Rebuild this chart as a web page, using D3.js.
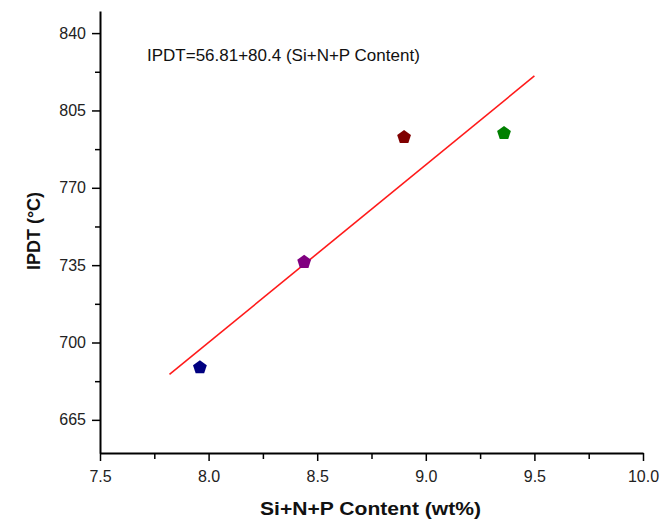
<!DOCTYPE html>
<html>
<head>
<meta charset="utf-8">
<script src="https://cdn.jsdelivr.net/npm/d3@7"></script>
<style>
    body { margin: 0; background: #fff; }
    text { font-family: Arial, "Liberation Sans", sans-serif; }
</style>
</head>
<body>
<div id="chart"></div>
<script>
// data
const content = [7.96, 8.44, 8.90, 9.36];
const ipdt = [688.7, 736.4, 792.9, 794.7];
const pointColors = ["#000080", "#800080", "#800000", "#008000"];

// fitted line IPDT = 56.81 + 80.4 * content
const fitIntercept = 56.81;
const fitSlope = 80.4;
const fitRange = [7.82, 9.5];

const xTicks = [7.5, 8.0, 8.5, 9.0, 9.5, 10.0];
const yTicks = [665, 700, 735, 770, 805, 840];

const width = 660;
const height = 521;
const margin = { top: 11, right: 17, bottom: 68, left: 100 };

let svg = d3.select("#chart")
    .append("svg")
    .attr("width", width)
    .attr("height", height);

let x = d3.scaleLinear()
    .domain([7.5, 10.0])
    .range([margin.left, width - margin.right]);

let y = d3.scaleLinear()
    .domain([650, 850])
    .range([height - margin.bottom, margin.top]);

// minor ticks halfway between the majors
let xMinor = d3.range(7.75, 10.0, 0.5);
let yMinor = d3.range(682.5, 850, 35);

let xAxisY = height - margin.bottom;

svg.append("g")
    .attr("transform", "translate(0," + xAxisY + ")")
    .call(d3.axisBottom(x).tickValues(xMinor).tickSize(6).tickFormat(""))
    .call(g => g.select(".domain").remove())
    .selectAll("line").attr("stroke-width", 1.5);

svg.append("g")
    .attr("class", "axis")
    .attr("transform", "translate(0," + xAxisY + ")")
    .call(d3.axisBottom(x).tickValues(xTicks).tickSize(8).tickSizeOuter(0).tickPadding(10)
        .tickFormat(d3.format(".1f")))
    .call(g => g.select(".domain").attr("stroke-width", 2))
    .call(g => g.selectAll("line").attr("stroke-width", 1.5))
    .call(g => g.selectAll("text").attr("font-size", 16).attr("fill", "#222"));

svg.append("g")
    .attr("transform", "translate(" + margin.left + ",0)")
    .call(d3.axisLeft(y).tickValues(yMinor).tickSize(5).tickFormat(""))
    .call(g => g.select(".domain").remove())
    .selectAll("line").attr("stroke-width", 1.5);

svg.append("g")
    .attr("class", "axis")
    .attr("transform", "translate(" + margin.left + ",0)")
    .call(d3.axisLeft(y).tickValues(yTicks).tickSize(8).tickSizeOuter(0).tickPadding(6))
    .call(g => g.select(".domain").attr("stroke-width", 2))
    .call(g => g.selectAll("line").attr("stroke-width", 1.5))
    .call(g => g.selectAll("text").attr("font-size", 16).attr("fill", "#222"));

// fitted line
let line = d3.line()
    .x(d => x(d))
    .y(d => y(fitIntercept + fitSlope * d));

svg.append("path")
    .datum(fitRange)
    .attr("d", line)
    .attr("fill", "none")
    .attr("stroke", "#ff1a1a")
    .attr("stroke-width", 1.6);

// pentagon markers
const pentagon = {
    draw(context, size) {
        let r = Math.sqrt(size / 2.378);
        for (let i = 0; i < 5; i++) {
            let a = -Math.PI / 2 + i * 2 * Math.PI / 5;
            if (i === 0) context.moveTo(r * Math.cos(a), r * Math.sin(a));
            else context.lineTo(r * Math.cos(a), r * Math.sin(a));
        }
        context.closePath();
    }
};

svg.selectAll(".point")
    .data(content)
    .join("path")
    .attr("class", "point")
    .attr("transform", (d, i) => "translate(" + x(d) + "," + y(ipdt[i]) + ")")
    .attr("d", d3.symbol().type(pentagon).size(125))
    .attr("fill", (d, i) => pointColors[i]);

// equation
svg.append("text")
    .attr("x", 147)
    .attr("y", 61)
    .attr("font-size", 17)
    .attr("fill", "#111")
    .text("IPDT=56.81+80.4 (Si+N+P Content)");

// axis titles
svg.append("text")
    .attr("x", 260)
    .attr("y", 515)
    .attr("font-size", 19)
    .attr("font-weight", "bold")
    .attr("textLength", 221)
    .attr("lengthAdjust", "spacingAndGlyphs")
    .attr("fill", "#111")
    .text("Si+N+P Content (wt%)");

svg.append("text")
    .attr("transform", "translate(40,231) rotate(-90)")
    .attr("text-anchor", "middle")
    .attr("font-size", 18)
    .attr("font-weight", "bold")
    .attr("fill", "#111")
    .text("IPDT (°C)");
</script>
</body>
</html>
